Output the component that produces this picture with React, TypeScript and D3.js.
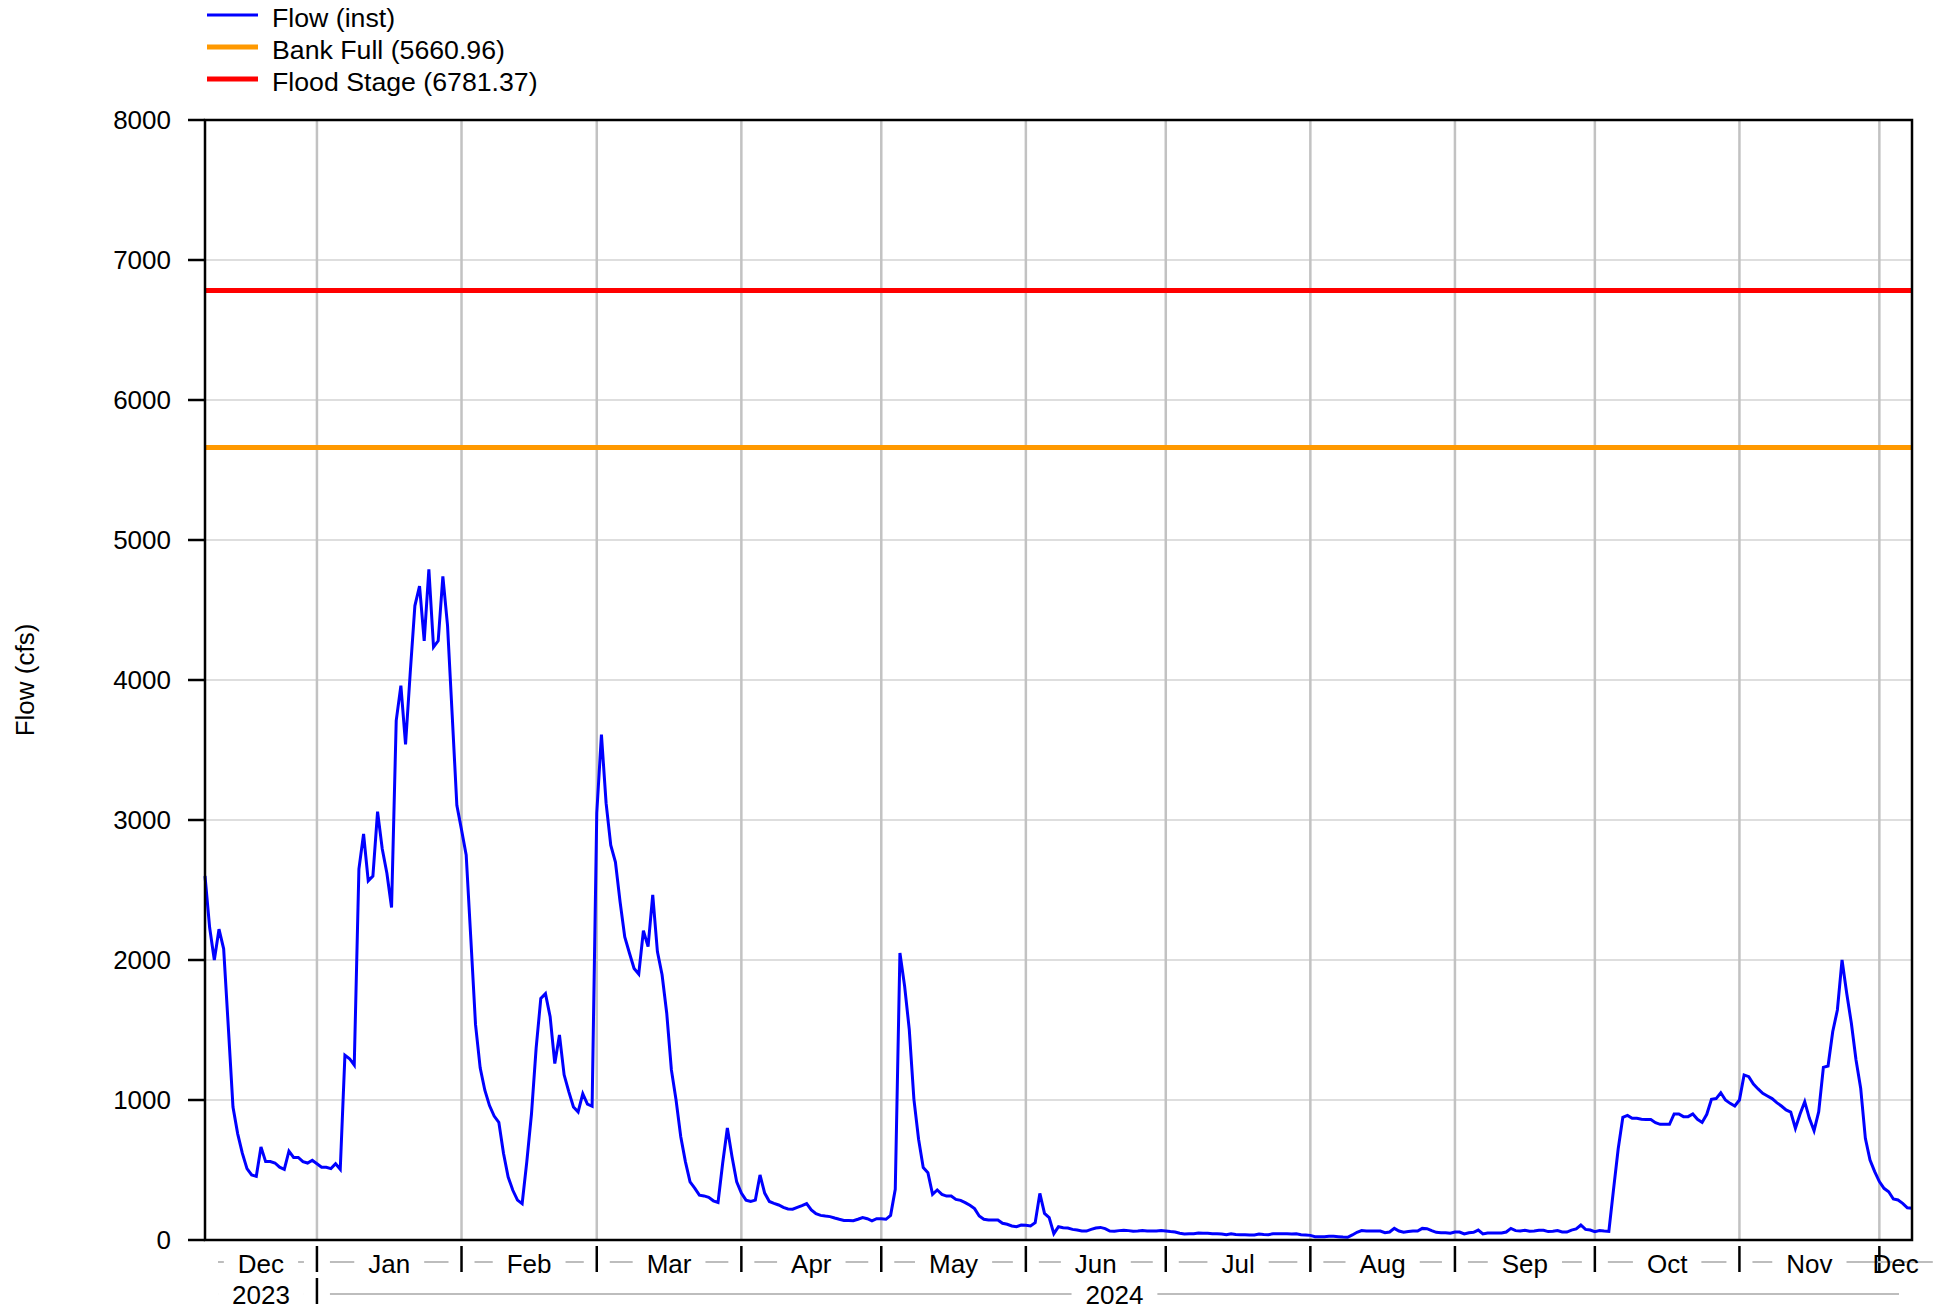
import React from 'react';
import * as d3 from 'd3';

// Daily instantaneous flow (cfs), starting 2023-12-08
const flowValues: number[] = [
  2600, 2230, 2000, 2220, 2080, 1520, 950, 760, 620, 510,
  465, 455, 665, 560, 560, 550, 520, 505, 635, 590,
  590, 560, 550, 570, 545, 520, 520, 510, 545, 505,
  1320, 1295, 1250, 2650, 2900, 2565, 2600, 3060, 2795, 2620,
  2375, 3710, 3960, 3540, 4050, 4530, 4670, 4280, 4790, 4235,
  4280, 4740, 4390, 3750, 3105, 2930, 2750, 2150, 1540, 1230,
  1070, 960, 885, 840, 620, 450, 355, 285, 260, 560,
  900, 1370, 1725, 1760, 1595, 1260, 1465, 1180, 1060, 950,
  915, 1045, 970, 955, 3050, 3610, 3120, 2820, 2700, 2415,
  2165, 2050, 1940, 1900, 2210, 2095, 2465, 2060, 1895, 1620,
  1215, 1000, 740, 560, 415, 370, 320, 315, 305, 280,
  268, 550, 800, 595, 415, 335, 285, 275, 285, 465,
  335, 275, 262, 250, 233, 222, 220, 233, 245, 260,
  215, 188, 176, 171, 167, 157, 148, 140, 140, 138,
  148, 160, 152, 136, 152, 152, 148, 176, 362, 2050,
  1815, 1505, 1005, 720, 517, 481, 326, 357, 326, 314,
  314, 290, 283, 267, 248, 224, 171, 148, 143, 143,
  143, 119, 112, 100, 95, 107, 105, 100, 124, 333,
  190, 160, 45, 95, 88, 86, 76, 71, 64, 64,
  76, 86, 90, 81, 64, 62, 67, 69, 67, 62,
  64, 67, 64, 64, 64, 67, 64, 60, 57, 48,
  43, 45, 45, 50, 48, 48, 45, 45, 43, 38,
  45, 40, 38, 38, 36, 36, 43, 40, 38, 45,
  45, 45, 45, 43, 45, 38, 36, 33, 24, 24,
  24, 26, 26, 24, 21, 19, 36, 55, 67, 64,
  64, 64, 64, 52, 57, 83, 64, 55, 60, 64,
  64, 83, 81, 67, 55, 52, 52, 48, 57, 57,
  43, 52, 55, 71, 43, 50, 50, 50, 50, 57,
  83, 67, 64, 69, 62, 64, 69, 69, 60, 62,
  67, 57, 57, 71, 79, 107, 76, 71, 60, 67,
  64, 62, 360, 650, 876, 890, 869, 869, 862, 860,
  860, 838, 826, 826, 826, 900, 900, 881, 881, 900,
  862, 840, 898, 1005, 1010, 1052, 1000, 976, 957, 1000,
  1179, 1167, 1114, 1079, 1048, 1029, 1010, 981, 957, 929,
  914, 798, 900, 988, 869, 781, 917, 1233, 1243, 1488,
  1643, 2000, 1762, 1548, 1286, 1083, 726, 571, 488, 417,
  369, 345, 293, 286, 262, 230, 226,
];

const bankFull = 5660.96;
const floodStage = 6781.37;
const yTicks = [0, 1000, 2000, 3000, 4000, 5000, 6000, 7000, 8000];
const monthNames = ['Jan', 'Feb', 'Mar', 'Apr', 'May', 'Jun', 'Jul', 'Aug', 'Sep', 'Oct', 'Nov', 'Dec'];
const legendItems = [
  { label: 'Flow (inst)', color: '#0000ff' },
  { label: `Bank Full (${bankFull.toFixed(2)})`, color: '#ff9900' },
  { label: `Flood Stage (${floodStage.toFixed(2)})`, color: '#ff0000' },
];

const FONT = "'Liberation Sans', Arial, sans-serif";
const FS = 26;

function textWidth(s: string): number {
  const c = document.createElement('canvas');
  const ctx = c.getContext('2d');
  if (!ctx) return s.length * FS * 0.55;
  ctx.font = `${FS}px ${FONT}`;
  return ctx.measureText(s).width;
}

export default function App() {
  const W = 1946, H = 1312;
  const left = 205, right = 1912, top = 120, bottom = 1240;
  const t0 = new Date(2023, 11, 8);
  const t1 = new Date(2024, 11, 8);
  const x = d3.scaleTime().domain([t0, t1]).range([left, right]);
  const y = d3.scaleLinear().domain([0, 8000]).range([bottom, top]);

  const dates = flowValues.map((_, i) => d3.timeDay.offset(t0, i));
  const linePath = d3.line<number>()
    .x((_, i) => x(dates[i]))
    .y((v) => y(v))(flowValues) || '';

  const boundaries = d3.timeMonth.range(d3.timeMonth.ceil(t0), t1);
  const monthStarts = d3.timeMonth.range(d3.timeMonth.floor(t0), t1);

  const pad = 13, tpad = 14;
  const monthLabelBase = 1273;
  const monthLineY = 1262;
  const yearLabelBase = 1304;
  const yearLineY = 1294;

  const segLines = (s: number, e: number, label: string, ly: number, key: string) => {
    const cx = (s + e) / 2;
    const w = textWidth(label);
    const tl = cx - w / 2, tr = cx + w / 2;
    return [
      <line key={key + 'a'} x1={s + pad} x2={tl - tpad} y1={ly} y2={ly} stroke="#bdbdbd" strokeWidth={2} />,
      <line key={key + 'b'} x1={tr + tpad} x2={e - pad} y1={ly} y2={ly} stroke="#bdbdbd" strokeWidth={2} />,
      <text key={key + 't'} x={cx} y={ly === monthLineY ? monthLabelBase : yearLabelBase} textAnchor="middle"
        fontFamily={FONT} fontSize={FS} fill="#000">{label}</text>,
    ];
  };

  const monthEls: React.ReactNode[] = [];
  monthStarts.forEach((m, i) => {
    const next = d3.timeMonth.offset(m, 1);
    const s = Math.max(x(m), left);
    const e = Math.min(x(next), right);
    monthEls.push(...segLines(s, e, monthNames[m.getMonth()], monthLineY, 'm' + i));
  });

  const years = d3.timeYear.range(d3.timeYear.floor(t0), t1);
  const yearEls: React.ReactNode[] = [];
  years.forEach((yr, i) => {
    const s = Math.max(x(yr), left);
    const e = Math.min(x(d3.timeYear.offset(yr, 1)), right);
    yearEls.push(...segLines(s, e, String(yr.getFullYear()), yearLineY, 'y' + i));
  });
  const yearBounds = d3.timeYear.range(d3.timeYear.ceil(t0), t1);

  return (
    <svg width={W} height={H} style={{ position: 'absolute', left: 0, top: 0, display: 'block', background: '#fff' }}>
      <rect x={0} y={0} width={W} height={H} fill="#fff" />
      {/* horizontal grid */}
      {yTicks.filter((t) => t > 0 && t < 8000).map((t) => (
        <line key={'hg' + t} x1={left} x2={right} y1={y(t)} y2={y(t)} stroke="#dedede" strokeWidth={2} />
      ))}
      {/* vertical grid */}
      {boundaries.map((b, i) => (
        <line key={'vg' + i} x1={x(b)} x2={x(b)} y1={top} y2={bottom} stroke="#c2c2c2" strokeWidth={2.5} />
      ))}
      {/* threshold lines */}
      <line x1={left} x2={right} y1={y(bankFull)} y2={y(bankFull)} stroke="#ff9900" strokeWidth={5} />
      <line x1={left} x2={right} y1={y(floodStage)} y2={y(floodStage)} stroke="#ff0000" strokeWidth={5} />
      {/* flow */}
      <path d={linePath} fill="none" stroke="#0000ff" strokeWidth={3} strokeLinejoin="miter" />
      {/* frame */}
      <rect x={left} y={top} width={right - left} height={bottom - top} fill="none" stroke="#000" strokeWidth={2.5} />
      {/* y ticks and labels */}
      {yTicks.map((t) => (
        <g key={'yt' + t}>
          <line x1={188} x2={left} y1={y(t)} y2={y(t)} stroke="#000" strokeWidth={2.5} />
          <text x={171} y={y(t) + 9.3} textAnchor="end" fontFamily={FONT} fontSize={FS} fill="#000">{t}</text>
        </g>
      ))}
      {/* y title */}
      <text transform={`translate(34,${(top + bottom) / 2}) rotate(-90)`} textAnchor="middle"
        fontFamily={FONT} fontSize={FS} fill="#000">Flow (cfs)</text>
      {/* x axis month ticks */}
      {boundaries.map((b, i) => (
        <line key={'mt' + i} x1={x(b)} x2={x(b)} y1={1246} y2={1272} stroke="#000" strokeWidth={2.5} />
      ))}
      {monthEls}
      {yearBounds.map((b, i) => (
        <line key={'ytk' + i} x1={x(b)} x2={x(b)} y1={1278} y2={1304} stroke="#000" strokeWidth={2.5} />
      ))}
      {yearEls}
      {/* legend */}
      {legendItems.map((it, i) => (
        <g key={'lg' + i}>
          <line x1={207} x2={258} y1={15 + i * 32} y2={15 + i * 32} stroke={it.color} strokeWidth={i === 0 ? 3 : 5} />
          <text x={272} y={15 + i * 32 + 11.5} fontFamily={FONT} fontSize={26.7} fill="#000">{it.label}</text>
        </g>
      ))}
    </svg>
  );
}
